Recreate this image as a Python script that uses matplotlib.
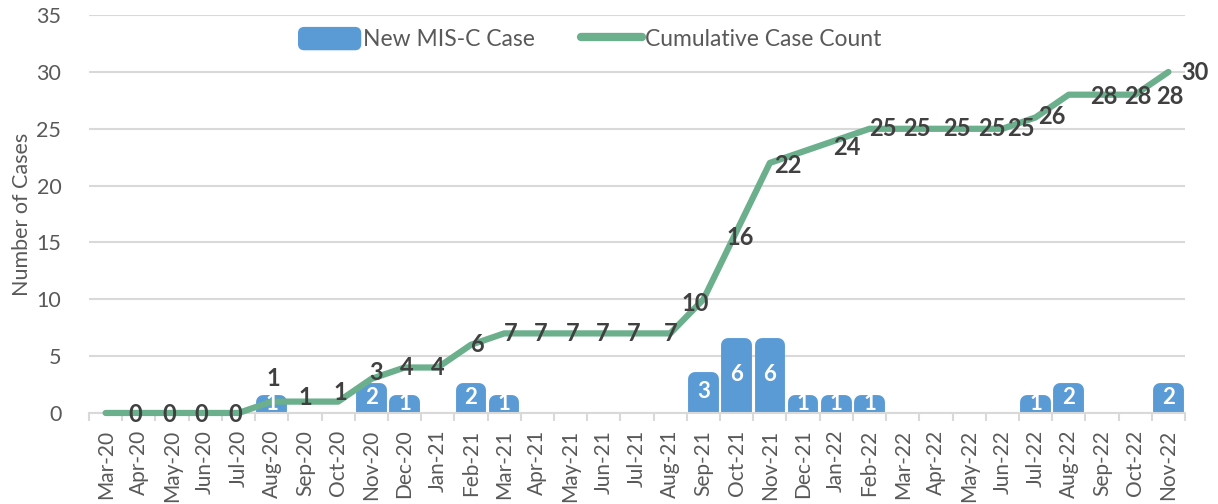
import matplotlib.pyplot as plt
from matplotlib.lines import Line2D
from matplotlib.patches import FancyBboxPatch, Patch
from matplotlib.legend_handler import HandlerPatch
import numpy as np

plt.rcParams["font.family"] = ["Lato", "DejaVu Sans"]

months = ["Mar-20", "Apr-20", "May-20", "Jun-20", "Jul-20", "Aug-20", "Sep-20",
          "Oct-20", "Nov-20", "Dec-20", "Jan-21", "Feb-21", "Mar-21", "Apr-21",
          "May-21", "Jun-21", "Jul-21", "Aug-21", "Sep-21", "Oct-21", "Nov-21",
          "Dec-21", "Jan-22", "Feb-22", "Mar-22", "Apr-22", "May-22", "Jun-22",
          "Jul-22", "Aug-22", "Sep-22", "Oct-22", "Nov-22"]
new_cases = [0, 0, 0, 0, 0, 1, 0, 0, 2, 1, 0, 2, 1, 0, 0, 0, 0, 0, 3, 6, 6,
             1, 1, 1, 0, 0, 0, 0, 1, 2, 0, 0, 2]
cumulative = [0, 0, 0, 0, 0, 1, 1, 1, 3, 4, 4, 6, 7, 7, 7, 7, 7, 7, 10, 16, 22,
              23, 24, 25, 25, 25, 25, 25, 26, 28, 28, 28, 30]

# label nudges in pixels (None = no label shown)
label_offsets = [None, (-4, -2), (-3, -2), (-4, -2), (-3, -2), (2, 23), (0, 4),
                 (2, 9), (5, 6), (2, 0), (0, 0), (7, 0), (7, 0), (3, 0), (2, 0),
                 (-1, 0), (-3, 0), (0, 0), (-8, -4), (4, -6), (18, -3), None,
                 (11, -7), (13, 0), (14, 0), (21, 0), (23, 0), (19, 0), (16, 1),
                 (35, -2), (36, -2), (35, -2), (27, -1)]

bar_color = "#5B9BD5"
line_color = "#6BAF8C"
grid_color = "#D9D9D9"
text_color = "#595959"
label_color = "#404040"

fig = plt.figure(figsize=(12.18, 5.04), dpi=100)
ax = fig.add_axes([0.0731, 0.1806, 0.8998, 0.7894])

x = np.arange(len(months))

bars = ax.bar(x, new_cases, width=0.5, color=bar_color, edgecolor=bar_color,
              linewidth=10, joinstyle="round", zorder=2)
for b, v in zip(bars, new_cases):
    if v == 0:
        b.set_visible(False)
        continue
    ax.annotate(str(v), (b.get_x() + b.get_width() / 2, v / 2),
                xytext=(0, 4), textcoords="offset pixels", ha="center",
                va="center", color="white", fontsize=16, fontweight="bold",
                zorder=5)

ax.plot(x, cumulative, color=line_color, linewidth=4.5,
        solid_capstyle="round", solid_joinstyle="round", zorder=3,
        clip_on=False)

for xi, v, off in zip(x, cumulative, label_offsets):
    if off is None:
        continue
    ax.annotate(str(v), (xi, v), xytext=off, textcoords="offset pixels",
                ha="center", va="center", color=label_color, fontsize=17,
                fontweight="bold", zorder=6)

ax.set_xlim(-0.5, len(months) - 0.5)
ax.set_ylim(0, 35)
ax.set_yticks(range(0, 36, 5))
ax.yaxis.grid(True, color=grid_color, linewidth=1.5)
ax.set_axisbelow(True)

ax.set_xticks(x)
ax.set_xticklabels(months, rotation=90, fontsize=15, color=text_color)
ax.set_xticks(np.arange(-0.5, len(months), 1), minor=True)
ax.tick_params(axis="x", which="major", length=0, pad=12)
ax.tick_params(axis="x", which="minor", length=6, width=1.5, color=grid_color)
ax.tick_params(axis="y", length=0, pad=20, labelsize=15.5,
               labelcolor=text_color)

for s in ["top", "right", "left"]:
    ax.spines[s].set_visible(False)
ax.spines["bottom"].set_color(grid_color)
ax.spines["bottom"].set_linewidth(1.5)

ax.set_ylabel("Number of Cases", fontsize=15.5, color=text_color, labelpad=3)


def rounded_box(legend, orig_handle, xdescent, ydescent, width, height, fontsize):
    return FancyBboxPatch((-xdescent, -ydescent), width, height,
                          boxstyle="round,pad=0,rounding_size=4")


handles = [Patch(color=bar_color),
           Line2D([0], [0], color=line_color, linewidth=6,
                  solid_capstyle="round")]
ax.legend(handles, ["New MIS-C Case", "Cumulative Case Count"],
          loc="center", bbox_to_anchor=(0.457, 0.94), ncol=2, frameon=False,
          fontsize=16.5, handlelength=2.7, handleheight=1.1, handletextpad=0.1,
          columnspacing=2.0, labelcolor=text_color,
          handler_map={Patch: HandlerPatch(patch_func=rounded_box)})

fig.savefig("out.png", dpi=100)
